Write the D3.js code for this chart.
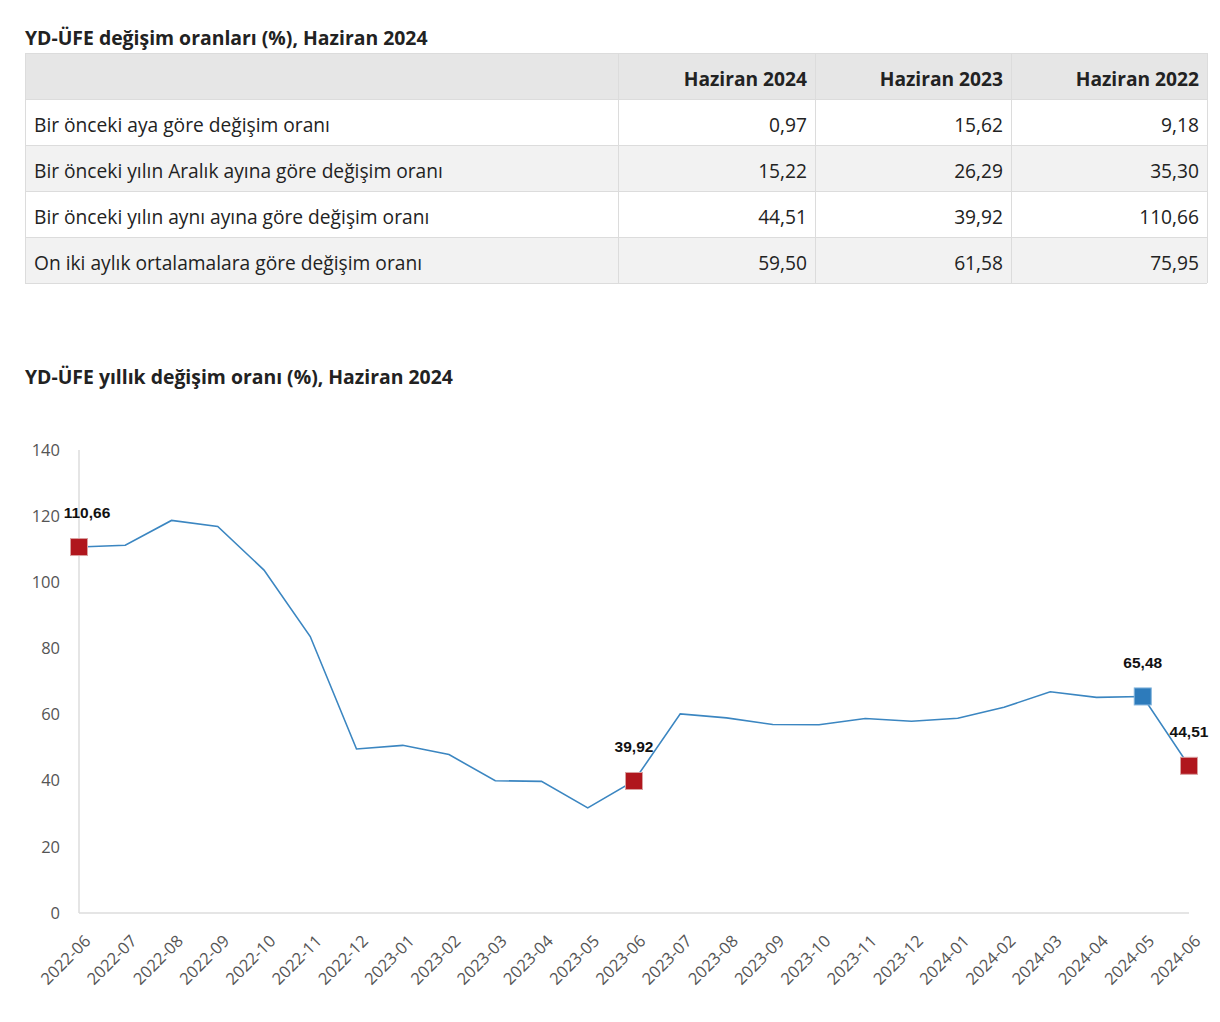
<!DOCTYPE html>
<html><head><meta charset="utf-8">
<script src="https://cdn.jsdelivr.net/npm/d3@7"></script>
<style>
body{margin:0;background:#fff;font-family:"Open Sans","Noto Sans",sans-serif;}
</style></head>
<body><svg id="c" width="1220" height="1022"></svg>
<script>
const tableTitle = "YD-ÜFE değişim oranları (%), Haziran 2024";
const tableHeaders = ["", "Haziran 2024", "Haziran 2023", "Haziran 2022"];
const rowLabels = ["Bir önceki aya göre değişim oranı","Bir önceki yılın Aralık ayına göre değişim oranı","Bir önceki yılın aynı ayına göre değişim oranı","On iki aylık ortalamalara göre değişim oranı"];
const col2024 = ["0,97","15,22","44,51","59,50"];
const col2023 = ["15,62","26,29","39,92","61,58"];
const col2022 = ["9,18","35,30","110,66","75,95"];

const chartTitle = "YD-ÜFE yıllık değişim oranı (%), Haziran 2024";
const months = ["2022-06","2022-07","2022-08","2022-09","2022-10","2022-11","2022-12","2023-01","2023-02","2023-03","2023-04","2023-05","2023-06","2023-07","2023-08","2023-09","2023-10","2023-11","2023-12","2024-01","2024-02","2024-03","2024-04","2024-05","2024-06"];
const values = [110.66,111.2,118.7,116.9,103.7,83.6,49.6,50.7,47.9,40.0,39.8,31.8,39.92,60.2,59.0,57.0,56.9,58.8,58.0,58.9,62.2,66.9,65.2,65.48,44.51];
const yTicks = [0,20,40,60,80,100,120,140];
const highlighted = [{m:"2022-06",label:"110,66",color:"red"},{m:"2023-06",label:"39,92",color:"red"},{m:"2024-05",label:"65,48",color:"blue"},{m:"2024-06",label:"44,51",color:"red"}];

const svg = d3.select("#c");
const font = '"Open Sans","Noto Sans",sans-serif';

// Table
svg.append("text").attr("x",25).attr("y",45).attr("font-family",font).attr("font-weight",700).attr("font-size",19.4).attr("fill","#222").text(tableTitle);
const colX = [25,618,815,1011,1207];
const rowH = 46, tTop = 53;
const rows = [tableHeaders].concat(rowLabels.map((l,i)=>[l,col2024[i],col2023[i],col2022[i]]));
rows.forEach((r,ri)=>{
  const y = tTop + ri*rowH;
  const bg = ri===0 ? "#e6e6e6" : (ri%2===0 ? "#f2f2f2" : "#ffffff");
  svg.append("rect").attr("x",colX[0]).attr("y",y).attr("width",colX[4]-colX[0]).attr("height",rowH).attr("fill",bg);
  r.forEach((cell,ci)=>{
    const t = svg.append("text").attr("y",y+rowH/2+3).attr("dy","0.36em").attr("font-family",font).attr("font-size",19.2).attr("fill","#222").text(cell);
    if(ci===0) t.attr("x",colX[0]+9);
    else t.attr("x",colX[ci+1]-8).attr("text-anchor","end");
    if(ri===0) t.attr("font-weight",700);
  });
});
for(let ri=0;ri<=rows.length;ri++){
  svg.append("line").attr("x1",colX[0]).attr("x2",colX[4]).attr("y1",tTop+ri*rowH+0.5).attr("y2",tTop+ri*rowH+0.5).attr("stroke","#dcdcdc");
}
colX.forEach(x=>svg.append("line").attr("x1",x+0.5).attr("x2",x+0.5).attr("y1",tTop).attr("y2",tTop+rows.length*rowH).attr("stroke","#dcdcdc"));

// Chart
svg.append("text").attr("x",25).attr("y",384).attr("font-family",font).attr("font-weight",700).attr("font-size",19.4).attr("fill","#222").text(chartTitle);

const x = d3.scalePoint().domain(months).range([79,1189]);
const y = d3.scaleLinear().domain([0,140]).range([913,450]);

svg.append("line").attr("x1",79).attr("x2",79).attr("y1",450).attr("y2",913).attr("stroke","#dddddd").attr("stroke-width",1.5);
svg.append("line").attr("x1",79).attr("x2",1189).attr("y1",913).attr("y2",913).attr("stroke","#dddddd").attr("stroke-width",1.5);

const yAx = svg.append("g").attr("transform","translate(79,0)").call(d3.axisLeft(y).tickValues(yTicks).tickSize(0).tickPadding(19));
yAx.select(".domain").remove();
yAx.selectAll("text").attr("font-family",font).attr("font-size",16.5).attr("fill","#555");

const xAx = svg.append("g").attr("transform","translate(0,913)").call(d3.axisBottom(x).tickSize(0));
xAx.select(".domain").remove();
xAx.selectAll("text").attr("font-family",font).attr("font-size",16.5).attr("fill","#555")
  .attr("text-anchor","end").attr("transform","translate(8,25) rotate(-45)").attr("dy","0.35em").attr("dx","0").attr("y",0);

const line = d3.line().x((d,i)=>x(months[i])).y(d=>y(d));
svg.append("path").datum(values).attr("d",line).attr("fill","none").attr("stroke","#3b86c1").attr("stroke-width",1.6);

const colors = {red:"#b0161d", blue:"#2d7bbb"};
const strokes = {red:"#d9a0a0", blue:"#7fb2dc"};
highlighted.forEach((h,i)=>{
  const v = values[months.indexOf(h.m)];
  const cx = x(h.m), cy = y(v);
  svg.append("rect").attr("x",cx-8.5).attr("y",cy-8.5).attr("width",17).attr("height",17).attr("fill",colors[h.color]).attr("stroke",strokes[h.color]).attr("stroke-width",1);
  // first label nudged right so it does not sit on the "120" tick label
  const lx = i===0 ? cx+8 : cx;
  svg.append("text").attr("x",lx).attr("y",cy-34).attr("dy","0.35em").attr("text-anchor","middle")
    .attr("font-family","'Liberation Sans',Arial,sans-serif").attr("font-weight",700).attr("font-size",15.5).attr("fill","#111").text(h.label);
});
</script></body></html>
